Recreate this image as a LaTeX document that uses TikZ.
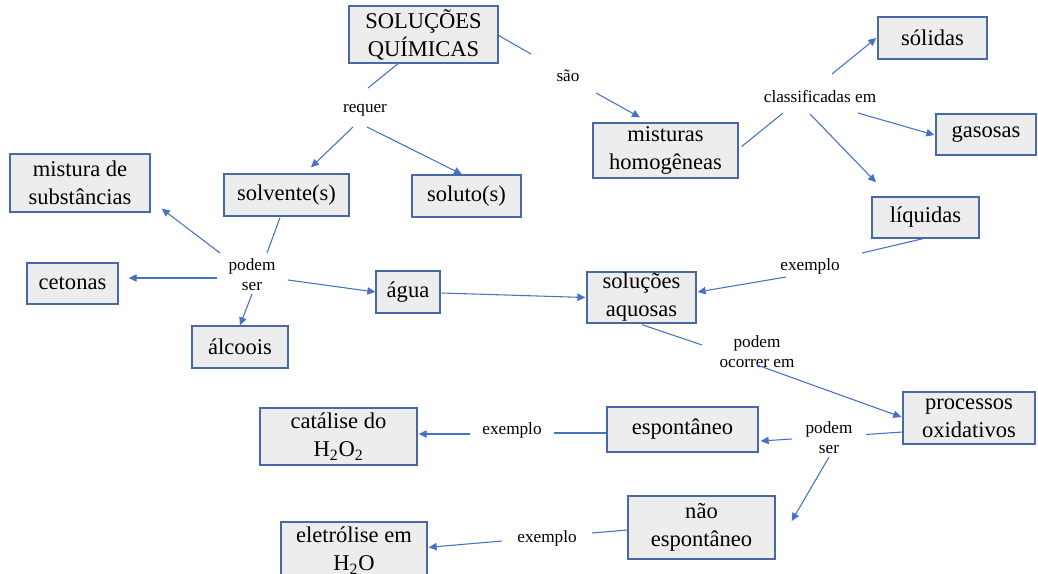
\documentclass[tikz,border=0pt]{standalone}
\usepackage{fontspec}
\setmainfont{Liberation Serif}
\usetikzlibrary{arrows.meta,calc}
\newdimen\px \px=0.75pt
\definecolor{boxfill}{RGB}{237,237,237}
\definecolor{boxline}{RGB}{72,104,168}
\definecolor{conn}{RGB}{68,114,196}
\newcommand\bigf{\fontsize{16.9}{21}\selectfont}
\newcommand\smallf{\fontsize{12.9}{15}\selectfont}
\begin{document}
\begin{tikzpicture}[x=0.75pt,y=-0.75pt,
 box/.style={draw=boxline,fill=boxfill,line width=1pt,align=center,inner sep=0pt,font=\bigf},
 lbl/.style={align=center,inner sep=0pt,font=\smallf},
 ln/.style={draw=conn,line width=0.8pt},
 ar/.style={ln,-{Triangle[length=6pt,width=5.5pt]}}]
\useasboundingbox (0,0) rectangle (1038,574);
\clip (0,0) rectangle (1038,574);
\fill[white] (0,0) rectangle (1038,574);

% boxes
\node[box,minimum width=149\px,minimum height=57\px] (sq) at (423.5,34.5) {SOLUÇÕES\\QUÍMICAS};
\node[box,minimum width=145\px,minimum height=55\px] (mh) at (665.5,150.5) {misturas\\homogêneas};
\node[box,minimum width=109\px,minimum height=42\px] (sol) at (932.5,38) {sólidas};
\node[box,minimum width=100\px,minimum height=41\px] (gas) at (986,134.5) {gasosas};
\node[box,minimum width=107\px,minimum height=41\px] (liq) at (925.5,217.5) {líquidas};
\node[box,minimum width=140\px,minimum height=58\px] (mds) at (80,183) {mistura de\\substâncias};
\node[box,minimum width=125\px,minimum height=42\px] (solv) at (286.5,195) {solvente(s)};
\node[box,minimum width=109\px,minimum height=42\px] (solu) at (466.5,196) {soluto(s)};
\node[box,minimum width=91\px,minimum height=41\px] (cet) at (72.5,283.5) {cetonas};
\node[box,minimum width=96\px,minimum height=42\px] (alc) at (240,347) {álcoois};
\node[box,minimum width=64\px,minimum height=42\px] (agua) at (408,292) {água};
\node[box,minimum width=109\px,minimum height=51\px] (aq) at (641.5,297.5) {soluções\\aquosas};
\node[box,minimum width=132\px,minimum height=52\px] (po) at (969,418) {processos\\oxidativos};
\node[box,minimum width=151\px,minimum height=45\px] (esp) at (682.5,429.5) {espontâneo};
\node[box,minimum width=157\px,minimum height=57\px] (cat) at (338.5,436.5) {catálise do\\H\textsubscript{2}O\textsubscript{2}};
\node[box,minimum width=147\px,minimum height=63\px] (nesp) at (701.5,527.5) {não\\espontâneo};
\node[box,minimum width=146\px,minimum height=57\px] (ele) at (354,550.5) {eletrólise em\\H\textsubscript{2}O};

% labels
\node[lbl] (req) at (365,110) {requer};
\node[lbl] (sao) at (568,76) {são};
\node[lbl] (cl) at (820,97) {classificadas em};
\node[lbl] (ps1) at (252,275) {podem\\ser};
\node[lbl] (ex1) at (810,266) {exemplo};
\node[lbl] (poe) at (757,352) {podem\\ocorrer em};
\node[lbl] (ps2) at (829,437.5) {podem\\ser};
\node[lbl] (ex2) at (512,430) {exemplo};
\node[lbl] (ex3) at (547,538) {exemplo};

% connectors
\draw[ln] ($(sq.south)+(-25.5,0)$) -- ($(req)+(3,-22)$);
\draw[ar] ($(req)+(-12,17)$) -- ($(solv.north)+(24.5,-6)$);
\draw[ar] ($(req)+(2,17)$) -- ($(solu.north)+(-4.5,0)$);
\draw[ln] ($(sq.east)+(0,1)$) -- ($(sao)+(-37,-22)$);
\draw[ar] ($(sao)+(28,17)$) -- ($(mh.north)+(-25.5,-5)$);
\draw[ln] ($(mh.east)+(3,-4)$) -- ($(cl)+(-37,16)$);
\draw[ar] ($(cl)+(12,-23)$) -- ($(sol.west)+(-1,0)$);
\draw[ar] ($(cl)+(38,16)$) -- ($(gas.west)+(-1,0.5)$);
\draw[ar] ($(cl)+(-10,17)$) -- ($(liq.north)+(-49.5,-14)$);
\draw[ln] ($(liq.south)+(-2.5,0)$) -- ($(ex1)+(52,-13)$);
\draw[ar] ($(ex1)+(-24,11)$) -- ($(aq.east)+(1,-5.5)$);
\draw[ln] ($(solv.south)+(-6.5,1)$) -- ($(ps1)+(15,-22)$);
\draw[ar] ($(ps1)+(-32,-22)$) -- ($(mds.south east)+(11,-4)$);
\draw[ar] ($(ps1)+(-35,3)$) -- ($(cet.east)+(10,-5.5)$);
\draw[ar] ($(ps1)+(0,19)$) -- (alc.north);
\draw[ar] ($(ps1)+(36,5)$) -- (agua.west);
\draw[ar] ($(agua.east)+(1,1)$) -- ($(aq.west)+(-1,0)$);
\draw[ln] ($(aq.south)+(0.5,1)$) -- ($(poe)+(-55,-7)$);
\draw[ar] ($(poe)+(0,13)$) -- ($(po.west)+(-1,-1)$);
\draw[ln] ($(po.west)+(0,14)$) -- ($(ps2)+(37,-3)$);
\draw[ar] ($(ps2)+(-37,1.5)$) -- ($(esp.east)+(2,11.5)$);
\draw[ar] ($(ps2)+(0,19.5)$) -- ($(nesp.east)+(16,-6.5)$);
\draw[ln] ($(esp.west)+(0,3.5)$) -- ($(ex2)+(42,3)$);
\draw[ar] ($(ex2)+(-42,4)$) -- ($(cat.east)+(1,-2.5)$);
\draw[ln] ($(nesp.west)+(0,2.5)$) -- ($(ex3)+(45,-5)$);
\draw[ar] ($(ex3)+(-45,3)$) -- ($(ele.north east)+(1,26)$);
\end{tikzpicture}
\end{document}
